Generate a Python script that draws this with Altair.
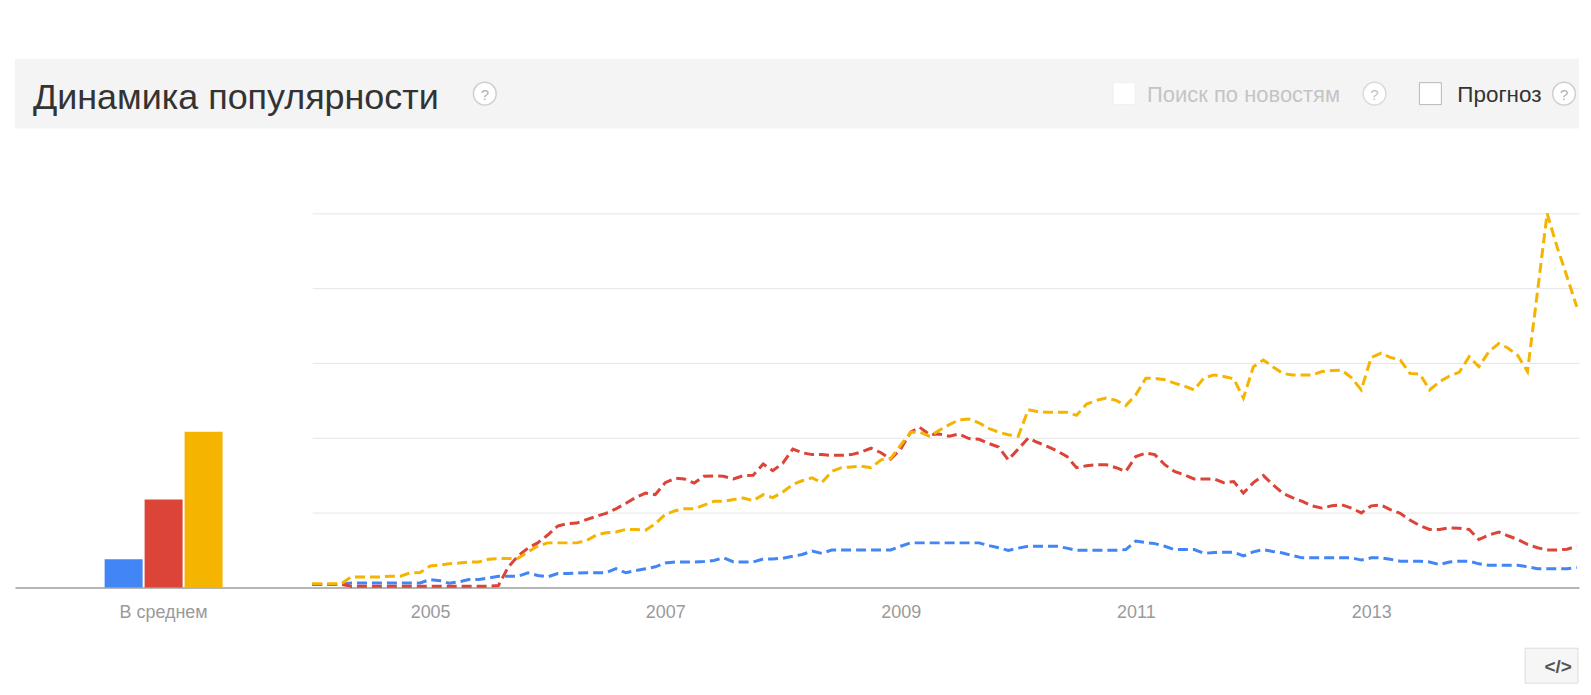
import altair as alt
import pandas as pd

FONT = "Liberation Sans"

# ---------------- data ----------------
series_names = ["Запрос 1", "Запрос 2", "Запрос 3"]
series_colors = ["#4285f4", "#db4437", "#f4b400"]
line_colors = ["#4a80dc", "#d9473b", "#f2b200"]

avg_label = "В среднем"
avg_values = [7.5, 23.5, 41.6]

months = pd.date_range("2004-01-01", periods=130, freq="MS")

blue = [
    0.8, 0.8, 0.8, 0.8, 1.2, 1.2, 1.2, 1.2, 1.2, 1.2,
    1.2, 1.2, 2.1, 1.8, 1.1, 1.5, 2.1, 2.1, 2.5, 3,
    3, 3, 3.9, 3.2, 2.8, 3.7, 3.7, 3.8, 3.9, 3.9,
    3.9, 5, 3.9, 4.5, 5, 5.5, 6.5, 6.8, 6.8, 6.8,
    6.9, 7.2, 7.9, 6.8, 6.8, 6.8, 7.6, 7.6, 7.8, 8.3,
    8.8, 9.7, 9.1, 10, 10, 10, 10, 10, 10, 10,
    11, 11.9, 11.9, 11.9, 11.9, 11.9, 11.9, 11.9, 11.9, 11.2,
    10.6, 9.9, 10.5, 11, 11, 11, 11, 10.5, 9.9, 9.9,
    9.9, 9.9, 9.9, 10.1, 12.4, 12, 11.7, 11, 10.1, 10.1,
    10.1, 9.1, 9.3, 9.4, 9.4, 8.4, 9.5, 10.1, 9.6, 9.2,
    8.5, 7.9, 7.9, 7.9, 7.9, 7.9, 7.9, 7.3, 7.9, 7.9,
    7.5, 7, 7, 7, 6.8, 6.1, 6.8, 7, 7, 6.3,
    5.9, 5.9, 5.9, 5.9, 5.5, 5, 5, 5, 5, 5.3,
]

red = [
    0.8, 0.8, 0.8, 0.8, 0.3, 0.3, 0.3, 0.3, 0.3, 0.3,
    0.3, 0.3, 0.3, 0.3, 0.3, 0.3, 0.3, 0.3, 0.3, 0.5,
    5.5, 8.4, 10.5, 11.9, 14, 16.4, 17, 17.2, 18.1, 19,
    19.8, 21, 22.5, 24, 25.2, 24.8, 28, 29.2, 29, 27.9,
    29.7, 29.8, 29.7, 29, 29.9, 30, 33, 31.2, 33.2, 37,
    36, 35.5, 35.5, 35.3, 35.3, 35.5, 36.2, 37.2, 36, 34.3,
    37, 41.5, 42.8, 40.8, 41, 40.4, 41, 39.8, 39.6, 38.5,
    37.5, 34.1, 37, 39.9, 38.8, 37.7, 36.5, 35, 32, 32.5,
    32.8, 32.8, 32, 31, 35, 35.9, 35.5, 32.8, 31, 30.1,
    29, 29, 29, 28, 28.3, 25.2, 28, 29.9, 27.5, 25.2,
    24, 23, 21.8, 21.2, 21.8, 22.1, 21.2, 19.9, 21.8, 22,
    20.8, 19.8, 18, 16.5, 15.5, 15.5, 15.9, 15.8, 15.5, 12.8,
    14, 14.8, 13.8, 12.8, 11.5, 10.6, 10, 10, 10.2, 11,
]

yellow = [
    1, 1, 1, 1, 2.8, 2.8, 2.8, 2.8, 3, 3,
    3.9, 4, 5.7, 6, 6.3, 6.5, 6.8, 6.8, 7.5, 7.7,
    7.7, 7.8, 9.5, 11, 11.9, 11.9, 11.9, 11.9, 12.5, 14,
    14.6, 14.8, 15.5, 15.5, 15.3, 17, 19.5, 20.5, 21, 21,
    22, 23, 23, 23.5, 23.9, 23.2, 24.8, 24, 25.5, 27.5,
    28.5, 29.3, 28, 31, 32, 32.2, 32.4, 32, 34.1, 34.5,
    38, 41.5, 41.5, 40.4, 42, 43.5, 44.8, 45, 44, 42.5,
    41.5, 40.8, 40.4, 47.5, 47, 46.8, 46.8, 46.8, 46, 49,
    50, 50.6, 50, 48.6, 51.5, 55.9, 55.9, 55.5, 54.6, 53.8,
    52.8, 56, 56.8, 56.4, 55.8, 50.6, 59, 60.8, 59, 57.2,
    56.8, 56.8, 56.8, 57.7, 58, 58.1, 56, 52.8, 61.5, 62.6,
    61.5, 60.8, 57.2, 57, 52.8, 55, 56.5, 57.5, 61.7, 59,
    63, 65.2, 64, 62, 57.7, 79, 100, 91, 83, 75,
]

year_ticks = [2005, 2007, 2009, 2011, 2013]

# ---------------- tables ----------------
line_rows = []
for name, vals in zip(series_names, [blue, red, yellow]):
    for d, v in zip(months, vals):
        line_rows.append({"date": d, "series": name, "value": v})
line_df = pd.DataFrame(line_rows)

bar_df = pd.DataFrame({
    "label": [avg_label] * 3,
    "series": series_names,
    "avg": avg_values,
})

one = pd.DataFrame({"k": [0]})

PLOT_H = 375
BAR_W = 298
LINE_W = 1270
HEAD_W = BAR_W + LINE_W
HEAD_H = 70

yscale = alt.Scale(domain=[0, 100], nice=False)

# ---------------- left: averages ----------------
bars = alt.Chart(bar_df).mark_bar().encode(
    x=alt.X("label:N", title=None,
            scale=alt.Scale(paddingOuter=0.76, paddingInner=0),
            axis=alt.Axis(labelAngle=0, labelColor="#9a9a9a", labelFontSize=18,
                          labelFont=FONT, ticks=False, domainColor="#9c9c9c",
                          domainWidth=1.5, labelPadding=16)),
    xOffset=alt.XOffset("series:N", sort=series_names,
                        scale=alt.Scale(domain=series_names, paddingInner=0.05)),
    y=alt.Y("avg:Q", scale=yscale, axis=None),
    color=alt.Color("series:N", scale=alt.Scale(domain=series_names, range=series_colors),
                    legend=None),
).properties(width=BAR_W, height=PLOT_H)

# ---------------- right: timeline ----------------
lines = alt.Chart(line_df).mark_line(strokeWidth=3, strokeDash=[10, 5]).encode(
    x=alt.X("date:T", title=None,
            scale=alt.Scale(domain=[alt.DateTime(year=2004, month=1, date=1),
                                    alt.DateTime(year=2014, month=10, date=8)]),
            axis=alt.Axis(values=[alt.DateTime(year=y, month=1, date=1) for y in year_ticks],
                          format="%Y", labelColor="#9a9a9a", labelFontSize=18,
                          labelFont=FONT, ticks=False, grid=False,
                          domainColor="#9c9c9c", domainWidth=1.5, labelPadding=16)),
    y=alt.Y("value:Q", title=None, scale=yscale,
            axis=alt.Axis(values=[20, 40, 60, 80, 100], grid=True, gridColor="#e6e6e6",
                          gridWidth=1, labels=False, ticks=False, domain=False,
                          minExtent=0, maxExtent=0)),
    color=alt.Color("series:N", scale=alt.Scale(domain=series_names, range=line_colors),
                    legend=None),
    order=alt.Order("date:T"),
)

button_box = alt.Chart(one).mark_rect(fill="#f6f6f6", stroke="#dddddd", strokeWidth=1).encode(
    x=alt.value(1216), x2=alt.value(1269), y=alt.value(436), y2=alt.value(471))
button_txt = alt.Chart(one).mark_text(text="</>", fontSize=19, fontWeight="bold",
                                      color="#555555", font=FONT,
                                      align="center", baseline="middle").encode(
    x=alt.value(1249), y=alt.value(455))

timeline = alt.layer(lines, button_box, button_txt).properties(width=LINE_W, height=PLOT_H)

# ---------------- header bar ----------------
def text(s, x, y, size, color):
    return alt.Chart(one).mark_text(text=s, fontSize=size, color=color, font=FONT,
                                    align="left", baseline="alphabetic").encode(
        x=alt.value(x), y=alt.value(y))


def help_icon(x, y, stroke="#cfcfcf", qcolor="#b0b0b0"):
    circ = alt.Chart(one).mark_point(shape="circle", size=520, fill="#ffffff",
                                     fillOpacity=1, stroke=stroke, strokeWidth=1.5,
                                     opacity=1).encode(x=alt.value(x), y=alt.value(y))
    q = alt.Chart(one).mark_text(text="?", fontSize=15, color=qcolor, font=FONT,
                                 align="center", baseline="middle").encode(
        x=alt.value(x), y=alt.value(y + 1))
    return [circ, q]


def checkbox(x, y, stroke):
    return alt.Chart(one).mark_square(size=484, fill="#ffffff", fillOpacity=1,
                                      stroke=stroke, strokeWidth=1, opacity=1).encode(
        x=alt.value(x), y=alt.value(y))


band = alt.Chart(one).mark_rect(color="#f4f4f4").encode(
    x=alt.value(0), x2=alt.value(HEAD_W), y=alt.value(0), y2=alt.value(HEAD_H))

header_layers = [band,
                 text("Динамика популярности", 18, 50, 36, "#333333")]
header_layers += help_icon(471, 35)
header_layers += [checkbox(1112, 35, "#f0f0f0"),
                  text("Поиск по новостям", 1135, 43, 22, "#c4c4c4")]
header_layers += help_icon(1363, 35, stroke="#dadada", qcolor="#c0c0c0")
header_layers += [checkbox(1419, 35, "#b8b8b8"),
                  text("Прогноз", 1446, 43, 22.5, "#333333")]
header_layers += help_icon(1553, 35)

header = alt.layer(*header_layers).properties(width=HEAD_W, height=HEAD_H)

body = alt.hconcat(bars, timeline, spacing=0, bounds="flush")

chart = alt.vconcat(header, body, spacing=85, bounds="flush").properties(
    padding={"left": 7, "top": 50, "right": 0, "bottom": 0},
    background="#ffffff",
).configure(font=FONT).configure_view(stroke=None)

chart.save("out.html", embed_options={"renderer": "svg", "actions": False})
